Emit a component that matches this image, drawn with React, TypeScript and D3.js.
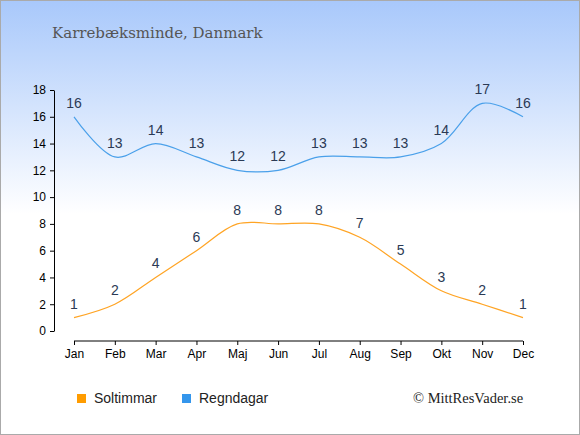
import { useEffect, useRef } from "react";
import * as d3 from "d3";

const months = ["Jan", "Feb", "Mar", "Apr", "Maj", "Jun", "Jul", "Aug", "Sep", "Okt", "Nov", "Dec"];
const soltimmar = [1, 2, 4, 6, 8, 8, 8, 7, 5, 3, 2, 1];
const regndagar = [16, 13, 14, 13, 12, 12, 13, 13, 13, 14, 17, 16];
const yTicks = [0, 2, 4, 6, 8, 10, 12, 14, 16, 18];

const App = () => {
  const svgRef = useRef(null);

  useEffect(() => {
    if (!svgRef.current) return;
    const svg = d3.select(svgRef.current);
    svg.selectAll("*").remove();

    const W = 580;
    const H = 435;

    // background gradient, fading to white about half way down
    const defs = svg.append("defs");
    const grad = defs
      .append("linearGradient")
      .attr("id", "bg")
      .attr("x1", 0)
      .attr("y1", 0)
      .attr("x2", 0)
      .attr("y2", 1);
    grad.append("stop").attr("offset", "0%").attr("stop-color", "#a8c8fb");
    grad.append("stop").attr("offset", "100%").attr("stop-color", "#ffffff");

    svg.append("rect").attr("width", W).attr("height", H).attr("fill", "#fff");
    svg.append("rect").attr("width", W).attr("height", 214).attr("fill", "url(#bg)");
    svg
      .append("rect")
      .attr("x", 0.5)
      .attr("y", 0.5)
      .attr("width", W - 1)
      .attr("height", H - 1)
      .attr("fill", "none")
      .attr("stroke", "#aaa");

    // title
    svg
      .append("text")
      .attr("x", 52)
      .attr("y", 38)
      .attr("font-family", "DejaVu Serif, serif")
      .attr("font-size", 15)
      .attr("fill", "#555")
      .text("Karrebæksminde, Danmark");

    const x = d3.scalePoint<string>().domain(months).range([74, 523]);
    const y = d3.scaleLinear().domain([0, 18]).range([331, 90]);

    // y axis
    const yAxis = svg.append("g").attr("transform", "translate(54,0)");
    yAxis
      .call(d3.axisLeft(y).tickValues(yTicks).tickSize(4).tickSizeOuter(0))
      .call((g) => g.select(".domain").attr("stroke", "#000"));
    yAxis
      .selectAll("text")
      .attr("font-family", "Liberation Sans, Arial, sans-serif")
      .attr("font-size", 12)
      .attr("fill", "#000")
      .attr("x", -8);

    // x axis
    const xAxis = svg.append("g").attr("transform", "translate(0,341)");
    xAxis.call(d3.axisBottom(x).tickSize(4).tickSizeOuter(0));
    xAxis.select(".domain").attr("d", `M${x("Jan")},0H${x("Dec")}`);
    xAxis
      .selectAll("text")
      .attr("font-family", "Liberation Sans, Arial, sans-serif")
      .attr("font-size", 12)
      .attr("fill", "#000")
      .attr("y", 8);

    const line = d3
      .line<number>()
      .x((_, i) => x(months[i]) as number)
      .y((d) => y(d))
      .curve(d3.curveCatmullRom.alpha(0.5));

    const series = [
      { values: regndagar, color: "#4aa0ea" },
      { values: soltimmar, color: "#ffa424" },
    ];

    series.forEach((s) => {
      svg
        .append("path")
        .datum(s.values)
        .attr("fill", "none")
        .attr("stroke", s.color)
        .attr("stroke-width", 1.2)
        .attr("d", line);

      svg
        .append("g")
        .selectAll("text")
        .data(s.values)
        .join("text")
        .attr("x", (_, i) => x(months[i]) as number)
        .attr("y", (d) => y(d) - 9)
        .attr("text-anchor", "middle")
        .attr("font-family", "Liberation Sans, Arial, sans-serif")
        .attr("font-size", 14)
        .attr("fill", "#2b3a55")
        .text((d) => d);
    });

    // legend
    const legend = [
      { label: "Soltimmar", color: "#ff9c00", x: 77 },
      { label: "Regndagar", color: "#3496ec", x: 182 },
    ];
    legend.forEach((l) => {
      svg
        .append("rect")
        .attr("x", l.x)
        .attr("y", 394)
        .attr("width", 9)
        .attr("height", 9)
        .attr("fill", l.color);
      svg
        .append("text")
        .attr("x", l.x + 17)
        .attr("y", 403)
        .attr("font-family", "Liberation Sans, Arial, sans-serif")
        .attr("font-size", 14)
        .attr("fill", "#222")
        .text(l.label);
    });

    svg
      .append("text")
      .attr("x", 413)
      .attr("y", 403)
      .attr("font-family", "Liberation Serif, serif")
      .attr("font-size", 14.5)
      .attr("fill", "#222")
      .text("© MittResVader.se");
  }, []);

  return (
    <div style={{ position: "fixed", left: 0, top: 0 }}>
      <svg ref={svgRef} width={580} height={435} style={{ display: "block" }} />
    </div>
  );
};

export default App;
